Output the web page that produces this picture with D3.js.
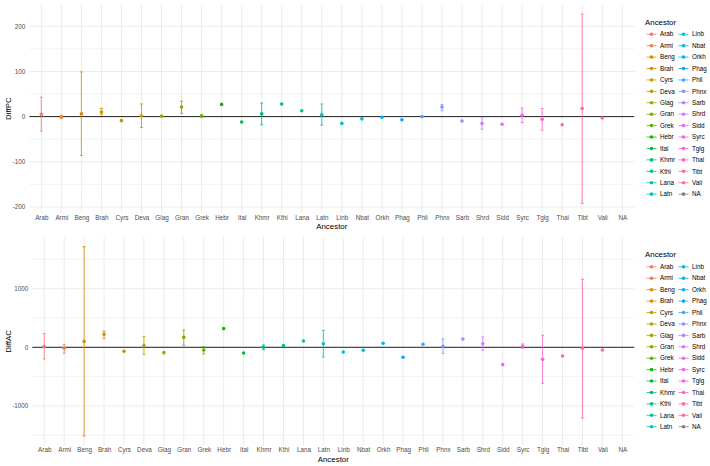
<!DOCTYPE html>
<html>
<head>
<meta charset="utf-8">
<script src="https://d3js.org/d3.v7.min.js"></script>
<style>
  body { margin: 0; background: #fff; }
  text { font-family: "Liberation Sans", Arial, sans-serif; }
</style>
</head>
<body>
<div id="my_dataviz"></div>
<script>
// categories on the x axis (last one is the missing level)
var ancestors = ["Arab","Armi","Beng","Brah","Cyrs","Deva","Glag","Gran","Grek","Hebr",
                 "Ital","Khmr","Kthi","Lana","Latn","Linb","Nbat","Orkh","Phag","Phli",
                 "Phnx","Sarb","Shrd","Sidd","Syrc","Tglg","Thai","Tibt","Vaii","NA"];

// DiffPC: point, lower and upper end of the error bar
var pcValue = [5, -1, 6, 10, -9, 2, 1, 21, 1.5, 27, -12, 6, 28, 13, 4, -15, -5, -1.5, -7, 0,
               21, -10, -15, -17, 3, -6, -18, 18, -3, null];
var pcLower = [-32, -4, -86, 4, null, -24, null, 7, -1, null, null, -18, null, null, -19, null, null, null, null, null,
               13, null, -28, null, -13, -30, null, -192, null, null];
var pcUpper = [43, 3, 99, 18, null, 28, null, 34, 4, null, null, 30, null, null, 28, null, null, null, null, null,
               27, null, -1.5, null, 19, 18, null, 227, null, null];

// DiffAC: point, lower and upper end of the error bar
var acValue = [11, -17, 102, 222, -68, 28, -91, 170, -45, 318, -97, 0, 28, 108, 62, -80, -51, 68, -170, 51,
               17, 142, 62, -295, 17, -205, -148, -17, -45, null];
var acLower = [-199, -102, -1511, 148, null, -119, null, 34, -114, null, null, -40, null, null, -165, null, null, null, null, null,
               -102, null, -51, null, -17, -614, null, -1205, null, null];
var acUpper = [233, 51, 1716, 278, null, 182, null, 295, 11, null, null, 40, null, null, 290, null, null, null, null, null,
               142, null, 176, null, 57, 205, null, 1159, null, null];

// tick values
var pcMajor = [-200, -100, 0, 100, 200], pcMinor = [-150, -50, 50, 150];
var acMajor = [-1000, 0, 1000], acMinor = [-1500, -500, 500, 1500];

var W = 710, H = 466;
var svg = d3.select("#my_dataviz")
            .append("svg")
            .attr("width", W)
            .attr("height", H);

// ggplot style hue palette (polar LUV -> sRGB)
function hclLuv(h, c, l) {
  var hr = h * Math.PI / 180;
  var U = c * Math.cos(hr), V = c * Math.sin(hr);
  var Y = l > 8 ? Math.pow((l + 16) / 116, 3) : l / 903.3;
  var Xn = 0.95047, Yn = 1, Zn = 1.08883;
  var den = Xn + 15 * Yn + 3 * Zn;
  var un = 4 * Xn / den, vn = 9 * Yn / den;
  var u = U / (13 * l) + un, v = V / (13 * l) + vn;
  var X = 9 * Y * u / (4 * v);
  var Z = -X / 3 - 5 * Y + 3 * Y / v;
  var rgb = [3.240479 * X - 1.537150 * Y - 0.498535 * Z,
            -0.969256 * X + 1.875992 * Y + 0.041556 * Z,
             0.055648 * X - 0.204043 * Y + 1.057311 * Z];
  rgb = rgb.map(function(t) {
    t = t <= 0.0031308 ? 12.92 * t : 1.055 * Math.pow(t, 1 / 2.4) - 0.055;
    return Math.round(Math.max(0, Math.min(1, t)) * 255);
  });
  return d3.rgb(rgb[0], rgb[1], rgb[2]).formatHex();
}
var nLev = ancestors.length - 1;
var palette = d3.range(nLev).map(function(i) { return hclLuv(15 + i * 360 / nLev, 100, 65); });
palette.push("#7f7f7f");
var color = d3.scaleOrdinal().domain(ancestors).range(palette);

function drawPanel(p) {
  var g = svg.append("g");

  var x = d3.scalePoint()
            .domain(ancestors)
            .range([p.left, p.right])
            .padding(0.6);

  var all = p.value.concat(p.lower, p.upper).filter(function(d) { return d != null; });
  var ext = d3.extent(all), pad = (ext[1] - ext[0]) * 0.05;
  var y = d3.scaleLinear()
            .domain([ext[0] - pad, ext[1] + pad])
            .range([p.bottom, p.top]);

  // grid
  g.selectAll(".minor").data(p.minor).enter().append("line")
   .attr("x1", p.left).attr("x2", p.right)
   .attr("y1", function(d) { return y(d); }).attr("y2", function(d) { return y(d); })
   .attr("stroke", "#ebebeb").attr("stroke-width", 0.6);
  g.selectAll(".major").data(p.major).enter().append("line")
   .attr("x1", p.left).attr("x2", p.right)
   .attr("y1", function(d) { return y(d); }).attr("y2", function(d) { return y(d); })
   .attr("stroke", "#ebebeb").attr("stroke-width", 1);
  g.selectAll(".vgrid").data(ancestors).enter().append("line")
   .attr("x1", function(d) { return x(d); }).attr("x2", function(d) { return x(d); })
   .attr("y1", p.top).attr("y2", p.bottom)
   .attr("stroke", "#ebebeb").attr("stroke-width", 1);

  // axes (no domain, no ticks like theme_minimal)
  var yAxis = g.append("g")
               .attr("transform", "translate(" + p.left + ",0)")
               .call(d3.axisLeft(y).tickValues(p.major).tickSize(0).tickPadding(4)
                       .tickFormat(function(d) { return String(d); }));
  var xAxis = g.append("g")
               .attr("transform", "translate(0," + p.bottom + ")")
               .call(d3.axisBottom(x).tickSize(0).tickPadding(2.5));
  [xAxis, yAxis].forEach(function(a) {
    a.select(".domain").remove();
    a.selectAll("text").attr("fill", "#4d4d4d").style("font-size", "6.3px")
     .style("font-family", "'Liberation Sans', Arial, sans-serif");
  });

  // zero line
  g.append("line")
   .attr("x1", p.left).attr("x2", p.right)
   .attr("y1", y(0)).attr("y2", y(0))
   .attr("stroke", "#222").attr("stroke-width", 1);

  // error bars
  var rows = ancestors.map(function(a, i) {
    return {key: a, v: p.value[i], lo: p.lower[i], hi: p.upper[i]};
  });
  var bars = g.append("g").selectAll("g")
              .data(rows.filter(function(d) { return d.lo != null; }))
              .enter().append("g")
              .attr("stroke", function(d) { return color(d.key); })
              .attr("stroke-opacity", 0.8)
              .attr("stroke-width", 1);
  bars.append("line")
      .attr("x1", function(d) { return x(d.key); }).attr("x2", function(d) { return x(d.key); })
      .attr("y1", function(d) { return y(d.lo); }).attr("y2", function(d) { return y(d.hi); });
  bars.append("line")
      .attr("x1", function(d) { return x(d.key) - 1.5; }).attr("x2", function(d) { return x(d.key) + 1.5; })
      .attr("y1", function(d) { return y(d.lo); }).attr("y2", function(d) { return y(d.lo); });
  bars.append("line")
      .attr("x1", function(d) { return x(d.key) - 1.5; }).attr("x2", function(d) { return x(d.key) + 1.5; })
      .attr("y1", function(d) { return y(d.hi); }).attr("y2", function(d) { return y(d.hi); });

  // points
  g.append("g").selectAll("circle")
   .data(rows.filter(function(d) { return d.v != null; }))
   .enter().append("circle")
   .attr("cx", function(d) { return x(d.key); })
   .attr("cy", function(d) { return y(d.v); })
   .attr("r", 1.8)
   .attr("fill", function(d) { return color(d.key); });

  // axis titles
  g.append("text")
   .attr("x", (p.left + p.right) / 2)
   .attr("y", p.bottom + 16.5)
   .attr("text-anchor", "middle")
   .style("font-size", "7.9px")
   .text("Ancestor");
  g.append("text")
   .attr("transform", "translate(" + 10.5 + "," + ((p.top + p.bottom) / 2) + ") rotate(-90)")
   .attr("text-anchor", "middle")
   .style("font-size", "7.9px")
   .text(p.title);

  // legend, two columns
  var mid = (p.top + p.bottom) / 2;
  var step = 11.42, rowsPerCol = 15;
  var first = mid - step * (rowsPerCol - 1) / 2 + 5.5;
  g.append("text")
   .attr("x", 645)
   .attr("y", first - 12.5)
   .attr("dy", "0.35em")
   .style("font-size", "7.9px")
   .text("Ancestor");
  var legend = g.selectAll(".legend")
                .data(ancestors)
                .enter().append("g")
                .attr("transform", function(d, i) {
                  var col = Math.floor(i / rowsPerCol), row = i % rowsPerCol;
                  return "translate(" + (651.5 + col * 32) + "," + (first + row * step) + ")";
                });
  legend.append("line")
        .attr("x1", -5).attr("x2", 5)
        .attr("stroke", function(d) { return color(d); })
        .attr("stroke-opacity", 0.8)
        .attr("stroke-width", 1);
  legend.append("circle")
        .attr("r", 1.8)
        .attr("fill", function(d) { return color(d); });
  legend.append("text")
        .attr("x", 8.5)
        .attr("dy", "0.35em")
        .style("font-size", "6.3px")
        .text(function(d) { return d; });
}

drawPanel({title: "DiffPC", value: pcValue, lower: pcLower, upper: pcUpper,
           major: pcMajor, minor: pcMinor,
           left: 29.3, right: 634.3, top: 4.6, bottom: 212.8});
drawPanel({title: "DiffAC", value: acValue, lower: acLower, upper: acUpper,
           major: acMajor, minor: acMinor,
           left: 32.3, right: 634.3, top: 237.2, bottom: 445.4});
</script>
</body>
</html>
